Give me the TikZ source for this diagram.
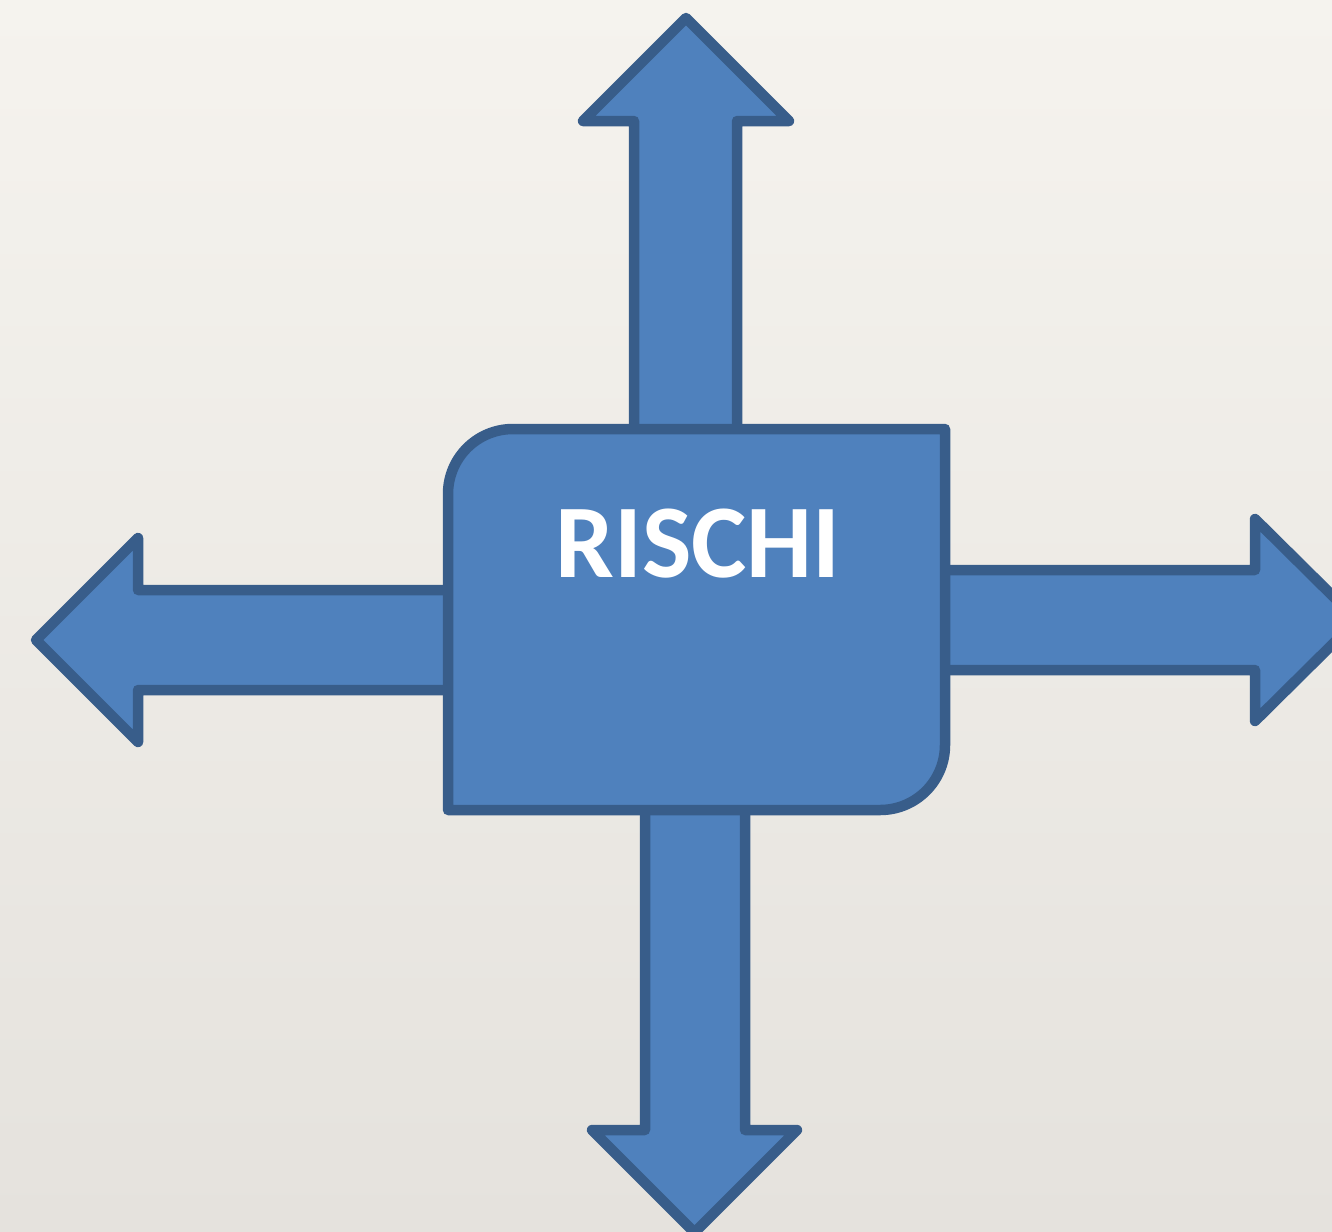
\documentclass[tikz,border=0pt]{standalone}
\usepackage{fontspec}
\setmainfont{Carlito}
\definecolor{fillblue}{RGB}{79,129,189}
\definecolor{lineblue}{RGB}{56,93,138}
\definecolor{bgtop}{RGB}{245,243,238}
\definecolor{bgbot}{RGB}{229,226,221}
\tikzset{
  shapestyle/.style={fill=fillblue, draw=lineblue, line width=0.21cm, line join=round},
  labelstyle/.style={anchor=base, text=white, inner sep=0pt, font=\bfseries\fontsize{59.5}{62}\selectfont}
}
\begin{document}
\begin{tikzpicture}[x=0.02cm,y=-0.02cm]
\useasboundingbox (0,0) rectangle (1332,1231);
\clip (0,0) rectangle (1332,1231);
\shade[top color=bgtop, bottom color=bgbot] (0,0) rectangle (1332,1231);
% up arrow
\draw[shapestyle] (634,440) -- (634,121) -- (583,121) -- (686,18) -- (789,121) -- (737,121) -- (737,440) -- cycle;
% right arrow
\draw[shapestyle] (935,570) -- (1255,570) -- (1255,519) -- (1357,620) -- (1255,721) -- (1255,670) -- (935,670) -- cycle;
% left arrow
\draw[shapestyle] (460,590) -- (138,590) -- (138,538) -- (36,640) -- (138,742) -- (138,690) -- (460,690) -- cycle;
% down arrow
\draw[shapestyle] (645,800) -- (645,1130) -- (592,1130) -- (694.5,1232.5) -- (797,1130) -- (745,1130) -- (745,800) -- cycle;
% central box
\draw[shapestyle] (448,810) -- (448,494) .. controls (448,458) and (477,429) .. (513,429)
  -- (945,429) -- (945,745) .. controls (945,781) and (916,810) .. (880,810) -- cycle;
\node[labelstyle] (title) at (698,577) {RISCHI};
\end{tikzpicture}
\end{document}
